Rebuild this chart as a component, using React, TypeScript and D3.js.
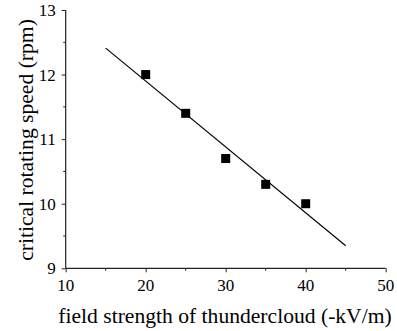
import React, { useEffect, useRef } from "react";
import * as d3 from "d3";

const fieldStrength = [20, 25, 30, 35, 40];
const rotatingSpeed = [12.0, 11.4, 10.7, 10.3, 10.0];
const fitRange = [15, 45];
const xTicks = [10, 20, 30, 40, 50];
const yTicks = [9, 10, 11, 12, 13];
const xMinorTicks = [15, 25, 35, 45];
const yMinorTicks = [9.5, 10.5, 11.5, 12.5];
const xTitle = "field strength of thundercloud (-kV/m)";
const yTitle = "critical rotating speed (rpm)";

export default function App() {
  const ref = useRef<SVGSVGElement>(null);
  useEffect(() => {
    const svg = d3.select(ref.current);
    svg.selectAll("*").remove();
    const x = d3.scaleLinear().domain([10, 50]).range([65.7, 385.7]);
    const y = d3.scaleLinear().domain([9, 13]).range([268.3, 10]);
    const font = "Liberation Serif, Times New Roman, serif";
    const axisColor = "#222";

    // regression line
    const n = fieldStrength.length;
    const mx = d3.mean(fieldStrength)!;
    const my = d3.mean(rotatingSpeed)!;
    let sxy = 0, sxx = 0;
    for (let i = 0; i < n; i++) {
      sxy += (fieldStrength[i] - mx) * (rotatingSpeed[i] - my);
      sxx += (fieldStrength[i] - mx) ** 2;
    }
    const slope = sxy / sxx;
    const icpt = my - slope * mx;
    const line = d3.line<number>().x((d) => x(d)).y((d) => y(icpt + slope * d));
    svg.append("path").attr("d", line(fitRange)!).attr("fill", "none")
      .attr("stroke", "#000").attr("stroke-width", 1.2);

    // markers
    const s = 9;
    svg.selectAll("rect.pt").data(fieldStrength).enter().append("rect")
      .attr("class", "pt")
      .attr("x", (d) => x(d) - s / 2)
      .attr("y", (_d, i) => y(rotatingSpeed[i]) - s / 2)
      .attr("width", s).attr("height", s).attr("fill", "#000");

    // axes (lines and ticks)
    const gx = svg.append("g").attr("transform", `translate(0,${y(9)})`);
    gx.call(d3.axisBottom(x).tickValues(xTicks).tickSize(4).tickFormat(() => "") as any);
    gx.selectAll(".minor").data(xMinorTicks).enter().append("line")
      .attr("class", "minor")
      .attr("x1", (d) => x(d)).attr("x2", (d) => x(d)).attr("y1", 0).attr("y2", 2.5)
      .attr("stroke", axisColor);
    const gy = svg.append("g").attr("transform", `translate(${x(10)},0)`);
    gy.call(d3.axisLeft(y).tickValues(yTicks).tickSize(4).tickFormat(() => "") as any);
    gy.selectAll(".minor").data(yMinorTicks).enter().append("line")
      .attr("class", "minor")
      .attr("y1", (d) => y(d)).attr("y2", (d) => y(d)).attr("x1", 0).attr("x2", -2.5)
      .attr("stroke", axisColor);
    [gx, gy].forEach((g) => {
      g.select(".domain").attr("stroke", axisColor).attr("stroke-width", 1.2);
      g.selectAll(".tick line").attr("stroke", axisColor);
    });
    gx.select(".domain").attr("d", `M${x(10)},0H${x(50)}`);
    gy.select(".domain").attr("d", `M0,${y(9)}V${y(13)}`);

    // tick labels
    svg.selectAll("text.xl").data(xTicks).enter().append("text")
      .attr("class", "xl")
      .attr("x", (d) => x(d)).attr("y", y(9) + 22.5)
      .attr("text-anchor", "middle")
      .attr("font-family", font).attr("font-size", 17).attr("fill", "#000")
      .text((d) => String(d));
    svg.selectAll("text.yl").data(yTicks).enter().append("text")
      .attr("class", "yl")
      .attr("x", x(10) - 10).attr("y", (d) => y(d) + 6)
      .attr("text-anchor", "end")
      .attr("font-family", font).attr("font-size", 17).attr("fill", "#000")
      .text((d) => String(d));

    svg.append("text").attr("x", 225).attr("y", 323).attr("text-anchor", "middle")
      .attr("font-family", font).attr("font-size", 21.6).text(xTitle);
    svg.append("text").attr("transform", `translate(33,140) rotate(-90)`).attr("text-anchor", "middle")
      .attr("font-family", font).attr("font-size", 21.6).text(yTitle);
  }, []);
  return (
    <svg ref={ref} width={397} height={331}
      style={{ position: "absolute", left: 0, top: 0, background: "#fff" }} />
  );
}
